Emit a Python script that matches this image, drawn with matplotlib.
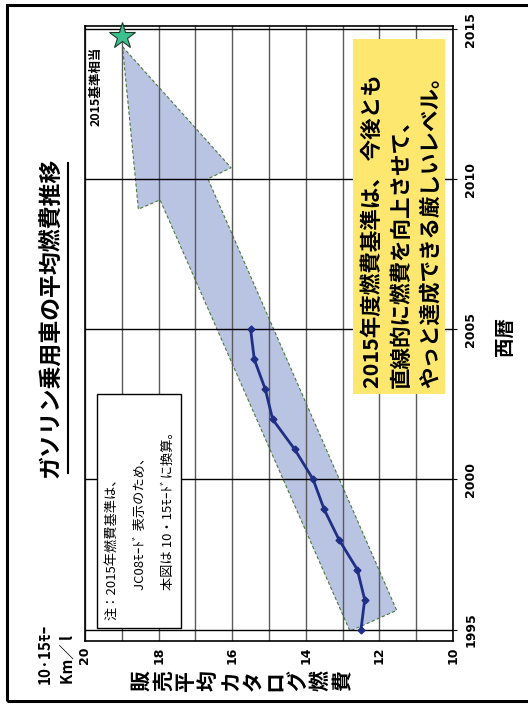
import matplotlib
matplotlib.use('Agg')
import matplotlib.pyplot as plt
from matplotlib.patches import Rectangle
from matplotlib.lines import Line2D

plt.rcParams['font.family'] = ['Noto Sans CJK JP', 'DejaVu Sans']

# data (chart is drawn turned 90 deg: fuel economy runs right->left, years bottom->top)
years = [1995, 1996, 1997, 1998, 1999, 2000, 2001, 2002, 2003, 2004, 2005]
fuel = [12.5, 12.4, 12.6, 13.1, 13.5, 13.8, 14.3, 14.9, 15.1, 15.4, 15.5]

# big arrow outline (km/l, year)
arrow_val = [18.98, 16.03, 16.66, 11.53, 12.80, 17.96, 18.55]
arrow_year = [2014.41, 2010.38, 2010.01, 1995.64, 1994.95, 2009.31, 2009.0]

target_val = 18.99
target_year = 2014.78

val_ticks = [20, 18, 16, 14, 12, 10]
val_minor = [19, 17, 15, 13, 11]
year_ticks = [1995, 2000, 2005, 2010, 2015]

title = 'ガソリン乗用車の平均燃費推移'
val_label = '販売平均カタログ燃費'
unit_lines = ['10·15ﾓｰ', 'Km／ l']
year_label = '西暦'
target_label = '2015基準相当'
note_lines = ['注：2015年燃費基準は、', 'JC08ﾓｰﾄﾞ 表示のため、', '本図は 10・15ﾓｰﾄﾞに換算。']
box_lines = ['2015年度燃費基準は、 今後とも', '直線的に燃費を向上させて、', 'やっと達成できる厳しいレベル。']

W, H = 528, 704
def fx(x):
    return x / W
def fy(y):
    return 1 - y / H

fig = plt.figure(figsize=(W / 100, H / 100), dpi=100)

# outer frame
fig.add_artist(Rectangle((fx(7), fy(701)), fx(540) - fx(7), fy(5) - fy(701),
                         transform=fig.transFigure, fill=False, lw=2.2, ec='black'))

ax = fig.add_axes([fx(85), fy(641), fx(453) - fx(85), fy(26) - fy(641)])
ax.set_xlim(20, 10)
ax.set_ylim(1994.62, 2015.1)

ax.set_xticks(val_ticks)
ax.set_xticks(val_minor, minor=True)
ax.set_xticklabels([str(v) for v in val_ticks], rotation=90, fontsize=9,
                   fontweight='bold', family='DejaVu Sans')
ax.tick_params(axis='x', which='both', length=0, pad=4)

ax.yaxis.tick_right()
ax.set_yticks(year_ticks)
ax.set_yticklabels([str(y) for y in year_ticks], rotation=90, fontsize=9,
                   fontweight='bold', family='DejaVu Sans', va='center')
ax.tick_params(axis='y', which='both', direction='out', length=3, pad=5)

ax.grid(axis='x', which='both', color='#5a5a5a', lw=1.0, zorder=2)
ax.grid(axis='y', which='major', color='black', lw=1.0, zorder=2)
ax.set_axisbelow(False)
for s in ax.spines.values():
    s.set_linewidth(1.2)
    s.set_zorder(5)

ax.fill(arrow_val, arrow_year, facecolor='#b9c3e2', edgecolor='#4a7a40',
        linestyle=(0, (3, 2)), lw=0.8, zorder=1)
ax.plot(fuel, years, color='#1f2f86', lw=2, marker='D', markersize=3.5, zorder=4)
ax.plot([target_val], [target_year], marker='*', markersize=20, color='#3ec08d',
        markeredgecolor='#1b3a2a', markeredgewidth=0.8, clip_on=False, zorder=6)

# title with underline
fig.text(fx(52), fy(318), title, rotation=90, ha='center', va='center',
         fontsize=16.5, fontweight='bold')
fig.add_artist(Line2D([fx(68), fx(68)], [fy(163), fy(473)], color='black', lw=1.5))

# value axis label, one character per step
for i, ch in enumerate(val_label):
    fig.text(fx(141 + i * 22.4), fy(681), ch, rotation=90, ha='center', va='center',
             fontsize=15, fontweight='bold')

fig.text(fx(45), fy(684), unit_lines[0], rotation=90, ha='center', va='bottom',
         fontsize=11, fontweight='bold')
fig.text(fx(68), fy(684), unit_lines[1], rotation=90, ha='center', va='bottom',
         fontsize=11, fontweight='bold')

fig.text(fx(505), fy(336), year_label, rotation=90, ha='center', va='center',
         fontsize=14, fontweight='bold')

fig.text(fx(96), fy(126), target_label, rotation=90, ha='center', va='bottom',
         fontsize=9, fontweight='bold')

# note box
fig.add_artist(Rectangle((fx(97), fy(628)), fx(181) - fx(97), fy(394) - fy(628),
                         transform=fig.transFigure, fc='white', ec='black', lw=1, zorder=7))
note_x = [112, 140, 168]
note_y = [620, 590, 590]
for t, x, y in zip(note_lines, note_x, note_y):
    fig.text(fx(x), fy(y), t, rotation=90, ha='center', va='bottom', fontsize=9.5, zorder=8)

# yellow box
fig.add_artist(Rectangle((fx(353), fy(394)), fx(445) - fx(353), fy(39) - fy(394),
                         transform=fig.transFigure, fc='#fde76e', ec='none', zorder=7))
box_x = [372, 401, 430]
for t, x in zip(box_lines, box_x):
    fig.text(fx(x), fy(388), t, rotation=90, ha='center', va='bottom', fontsize=15.5,
             fontweight='bold', zorder=8)

fig.savefig('out.png', dpi=100)
